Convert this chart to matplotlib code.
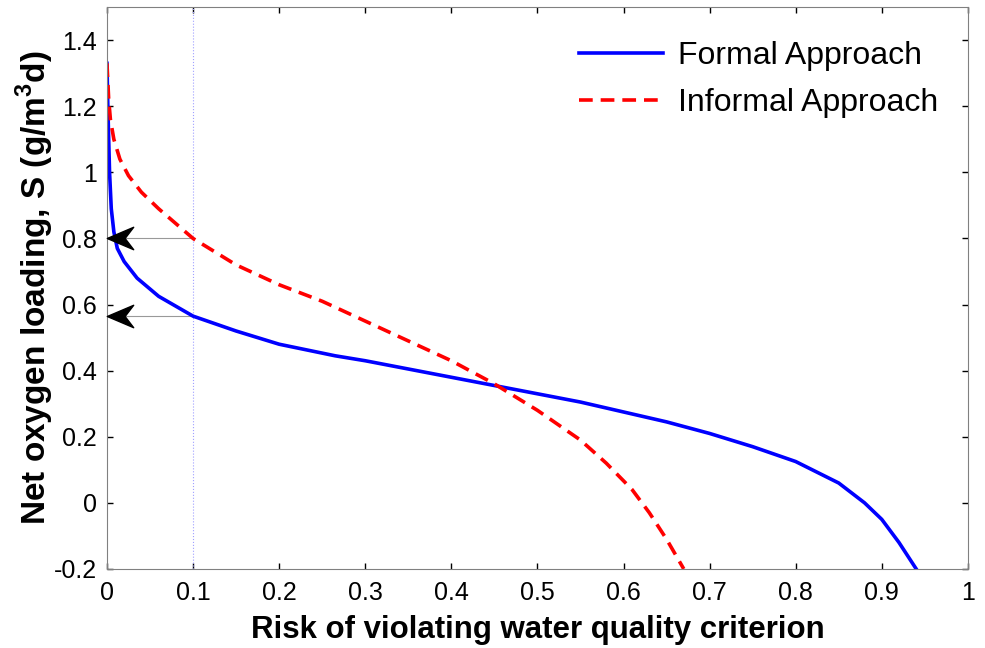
import matplotlib
matplotlib.use('Agg')
import matplotlib.pyplot as plt
from matplotlib.path import Path
from matplotlib.transforms import offset_copy

plt.rcParams['font.family'] = ['Liberation Sans', 'DejaVu Sans']
plt.rcParams['mathtext.fontset'] = 'custom'
plt.rcParams['mathtext.rm'] = 'Liberation Sans'
plt.rcParams['mathtext.bf'] = 'Liberation Sans:bold'

# formal approach curve
formal_risk = [0.0, 0.001, 0.002, 0.003, 0.005, 0.008, 0.012, 0.02, 0.035, 0.06, 0.1,
               0.15, 0.2, 0.265, 0.3, 0.35, 0.4, 0.45, 0.5, 0.55, 0.6, 0.65, 0.7,
               0.75, 0.8, 0.85, 0.88, 0.9, 0.92, 0.94]
formal_s = [1.33, 1.2, 1.1, 1.0, 0.89, 0.82, 0.77, 0.73, 0.68, 0.625, 0.565,
            0.52, 0.48, 0.445, 0.43, 0.405, 0.38, 0.355, 0.33, 0.305, 0.275, 0.245, 0.21,
            0.17, 0.125, 0.06, 0.0, -0.05, -0.12, -0.2]

# informal approach curve
informal_risk = [0.0, 0.002, 0.004, 0.008, 0.015, 0.025, 0.04, 0.06, 0.08, 0.1, 0.15, 0.2, 0.25,
                 0.3, 0.35, 0.4, 0.45, 0.5, 0.55, 0.58, 0.61, 0.63, 0.65, 0.67]
informal_s = [1.33, 1.22, 1.16, 1.1, 1.04, 0.99, 0.94, 0.89, 0.845, 0.8, 0.72, 0.66, 0.61,
              0.55, 0.49, 0.43, 0.36, 0.28, 0.19, 0.12, 0.04, -0.03, -0.11, -0.2]

# threshold markers at risk = 0.1
risk_level = 0.1
s_marks = [0.8, 0.565]

fig = plt.figure(figsize=(9.85, 6.48), dpi=100)
ax = fig.add_axes([0.1086, 0.122, 0.874, 0.867])

ax.axvline(risk_level, color='#a0a0ff', lw=0.8, ls=':')

# stealth style arrow head
head = Path([(-1, 0), (1, 0.85), (0.35, 0), (1, -0.85), (-1, 0)],
            [Path.MOVETO, Path.LINETO, Path.LINETO, Path.LINETO, Path.CLOSEPOLY])
shifted = offset_copy(ax.transData, fig=fig, x=13, y=0, units='dots')
for s in s_marks:
    ax.plot([0, risk_level], [s, s], color='#999999', lw=0.8)
    ax.plot([0], [s], marker=head, markersize=19, color='black', ls='none',
            transform=shifted, clip_on=False, zorder=5)

ax.plot(formal_risk, formal_s, color='blue', lw=2.6, label='Formal Approach')
ax.plot(informal_risk, informal_s, color='red', lw=2.6, ls=(0, (3.8, 2.2)),
        label='Informal Approach')

ax.set_xlim(0, 1)
ax.set_ylim(-0.2, 1.5)
ax.set_xticks([0, 0.1, 0.2, 0.3, 0.4, 0.5, 0.6, 0.7, 0.8, 0.9, 1])
ax.set_xticklabels(['0', '0.1', '0.2', '0.3', '0.4', '0.5', '0.6', '0.7', '0.8', '0.9', '1'])
ax.set_yticks([-0.2, 0, 0.2, 0.4, 0.6, 0.8, 1, 1.2, 1.4])
ax.set_yticklabels(['-0.2', '0', '0.2', '0.4', '0.6', '0.8', '1', '1.2', '1.4'])
ax.tick_params(direction='in', length=4, width=1, top=True, right=True,
               labelsize=18)
ax.tick_params(axis='x', pad=9)
ax.tick_params(axis='y', pad=7)
for sp in ax.spines.values():
    sp.set_color('#808080')

ax.set_xlabel('Risk of violating water quality criterion', fontsize=22.5,
              fontweight='bold', labelpad=7)
ax.set_ylabel(r'Net oxygen loading, S (g/m$^{\mathbf{3}}$d)', fontsize=24,
              fontweight='bold', labelpad=-1)

ax.legend(loc='upper right', frameon=False, fontsize=23, handlelength=2.6,
          handletextpad=0.5, borderaxespad=0, labelspacing=0.53,
          bbox_to_anchor=(0.981, 0.962))

fig.savefig('out.png', dpi=100)
